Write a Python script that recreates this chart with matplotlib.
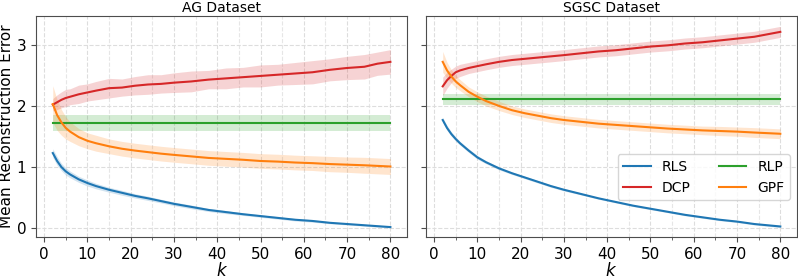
import numpy as np
import matplotlib
matplotlib.use("Agg")
import matplotlib.pyplot as plt
from matplotlib.ticker import MultipleLocator

# k values (number of components)
k = [2, 3, 4, 5, 6, 8, 10, 12, 15, 18, 21, 24, 27, 30, 34, 38, 42, 46, 50,
     54, 58, 62, 66, 70, 74, 77, 80]

# AG dataset
ag_rls = [1.23, 1.10, 1.00, 0.93, 0.88, 0.80, 0.74, 0.69, 0.63, 0.58, 0.53, 0.49,
          0.445, 0.40, 0.35, 0.30, 0.265, 0.23, 0.20, 0.17, 0.14, 0.12, 0.09, 0.07,
          0.05, 0.035, 0.02]
ag_rls_sd = [0.07, 0.07, 0.06, 0.06, 0.055, 0.05, 0.05, 0.045, 0.04, 0.04, 0.035,
             0.035, 0.03, 0.03, 0.03, 0.025, 0.025, 0.02, 0.02, 0.02, 0.02, 0.02,
             0.015, 0.015, 0.015, 0.015, 0.015]
ag_dcp = [2.02, 2.06, 2.10, 2.13, 2.15, 2.19, 2.22, 2.25, 2.29, 2.30, 2.33, 2.35,
          2.36, 2.38, 2.40, 2.43, 2.45, 2.47, 2.49, 2.51, 2.53, 2.55, 2.59, 2.62,
          2.64, 2.69, 2.72]
ag_dcp_sd = [0.10, 0.12, 0.13, 0.14, 0.13, 0.15, 0.14, 0.15, 0.16, 0.14, 0.15,
             0.16, 0.15, 0.16, 0.17, 0.15, 0.17, 0.16, 0.18, 0.17, 0.18, 0.19,
             0.18, 0.19, 0.20, 0.19, 0.20]
ag_rlp = 1.72
ag_rlp_sd = 0.13
ag_gpf = [2.03, 1.85, 1.73, 1.64, 1.58, 1.49, 1.43, 1.39, 1.34, 1.30, 1.27, 1.245,
          1.22, 1.20, 1.175, 1.15, 1.135, 1.12, 1.10, 1.09, 1.075, 1.065, 1.05,
          1.04, 1.03, 1.02, 1.01]
ag_gpf_sd = [0.30, 0.25, 0.21, 0.18, 0.16, 0.14, 0.13, 0.13, 0.12, 0.12, 0.12,
             0.12, 0.12, 0.12, 0.12, 0.12, 0.12, 0.12, 0.12, 0.12, 0.12, 0.12,
             0.125, 0.125, 0.13, 0.13, 0.13]

# SGSC dataset
sg_rls = [1.77, 1.64, 1.54, 1.46, 1.39, 1.27, 1.16, 1.08, 0.98, 0.90, 0.83, 0.76,
          0.69, 0.63, 0.56, 0.49, 0.43, 0.37, 0.32, 0.27, 0.22, 0.18, 0.14, 0.11,
          0.07, 0.05, 0.03]
sg_rls_sd = [0.04, 0.04, 0.035, 0.035, 0.03, 0.03, 0.03, 0.025, 0.025, 0.02, 0.02,
             0.02, 0.02, 0.02, 0.015, 0.015, 0.015, 0.015, 0.015, 0.015, 0.015,
             0.015, 0.015, 0.015, 0.015, 0.015, 0.015]
sg_dcp = [2.32, 2.42, 2.49, 2.55, 2.58, 2.62, 2.65, 2.68, 2.72, 2.75, 2.77, 2.79,
          2.81, 2.83, 2.86, 2.89, 2.91, 2.94, 2.97, 2.99, 3.02, 3.04, 3.07, 3.10,
          3.13, 3.17, 3.21]
sg_dcp_sd = [0.15, 0.13, 0.11, 0.10, 0.10, 0.09, 0.09, 0.09, 0.09, 0.09, 0.09,
             0.09, 0.09, 0.09, 0.09, 0.09, 0.09, 0.09, 0.09, 0.09, 0.09, 0.09,
             0.09, 0.09, 0.09, 0.09, 0.09]
sg_rlp = 2.11
sg_rlp_sd = 0.09
sg_gpf = [2.72, 2.58, 2.48, 2.40, 2.34, 2.23, 2.15, 2.08, 2.00, 1.93, 1.88, 1.84,
          1.80, 1.77, 1.74, 1.71, 1.69, 1.67, 1.65, 1.63, 1.615, 1.60, 1.59, 1.58,
          1.565, 1.555, 1.545]
sg_gpf_sd = [0.17, 0.13, 0.11, 0.10, 0.09, 0.08, 0.08, 0.08, 0.075, 0.07, 0.07,
             0.07, 0.07, 0.07, 0.07, 0.07, 0.07, 0.07, 0.07, 0.07, 0.07, 0.07,
             0.075, 0.075, 0.08, 0.08, 0.08]

titles = ["AG Dataset", "SGSC Dataset"]
colors = {"RLS": "tab:blue", "DCP": "tab:red", "RLP": "tab:green", "GPF": "tab:orange"}

paneller = [
    {"RLS": (ag_rls, ag_rls_sd), "DCP": (ag_dcp, ag_dcp_sd),
     "RLP": ([ag_rlp] * len(k), [ag_rlp_sd] * len(k)), "GPF": (ag_gpf, ag_gpf_sd)},
    {"RLS": (sg_rls, sg_rls_sd), "DCP": (sg_dcp, sg_dcp_sd),
     "RLP": ([sg_rlp] * len(k), [sg_rlp_sd] * len(k)), "GPF": (sg_gpf, sg_gpf_sd)},
]

fig, axes = plt.subplots(1, 2, figsize=(7.98, 2.8), dpi=100, sharey=True)
fig.subplots_adjust(left=0.045, right=0.999, top=0.943, bottom=0.154, wspace=0.05)

x = np.array(k)
for ax, baslik, veri in zip(axes, titles, paneller):
    for ad in ["RLS", "DCP", "RLP", "GPF"]:
        ort, sd = np.array(veri[ad][0]), np.array(veri[ad][1])
        ax.plot(x, ort, color=colors[ad], lw=1.5, label=ad)
        ax.fill_between(x, ort - sd, ort + sd, color=colors[ad], alpha=0.2, lw=0)
    ax.set_title(baslik, fontsize=10, pad=3)
    ax.set_xlabel("$k$", fontsize=12, labelpad=0)
    ax.xaxis.set_minor_locator(MultipleLocator(5))
    ax.set_xticks([0, 10, 20, 30, 40, 50, 60, 70, 80])
    ax.tick_params(labelsize=11, color="0.3")
    ax.tick_params(which="minor", color="0.3")
    ax.grid(True, which="major", ls="--", lw=0.8, color="#dddddd")
    ax.grid(True, which="minor", axis="x", ls="--", lw=0.8, color="#e6e6e6")
    ax.set_axisbelow(True)
    for sp in ax.spines.values():
        sp.set_color("0.3")

axes[0].set_ylim(-0.14, 3.47)
axes[0].set_yticks([0, 1, 2, 3])
axes[0].set_ylabel("Mean Reconstruction Error", fontsize=11)
axes[0].yaxis.set_label_coords(-0.058, 0.5)
axes[1].legend(ncol=2, fontsize=10, loc="center right", bbox_to_anchor=(1.0, 0.27),
               borderaxespad=0.5, columnspacing=2.0)

plt.savefig("out.png", dpi=100)
plt.close(fig)
